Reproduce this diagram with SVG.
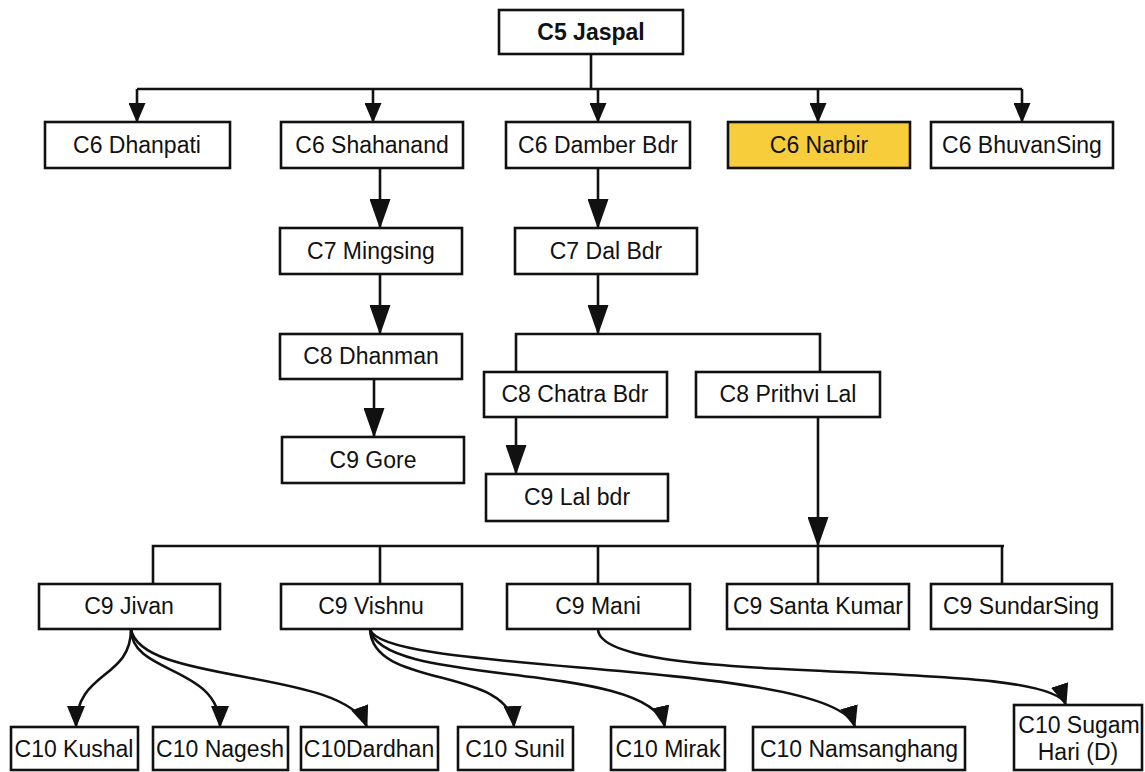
<svg xmlns="http://www.w3.org/2000/svg" width="1145" height="772" viewBox="0 0 1145 772">
<style>
.box{fill:#fff;stroke:#111;stroke-width:2.6}
.hl{fill:#F8CD3C}
text{font-family:"Liberation Sans",Arial,sans-serif;font-size:23px;fill:#111;text-anchor:middle}
.b{font-weight:bold}
.c{fill:none;stroke:#111;stroke-width:2.6}
</style>
<defs>
<marker id="aS" viewBox="0 0 20 17" markerWidth="20" markerHeight="17" refX="19" refY="8.5" orient="auto" markerUnits="userSpaceOnUse"><path d="M0,0 L20,8.5 L0,17 z" fill="#111"/></marker>
<marker id="aB" viewBox="0 0 30 21" markerWidth="30" markerHeight="21" refX="29" refY="10.5" orient="auto" markerUnits="userSpaceOnUse"><path d="M0,0 L30,10.5 L0,21 z" fill="#111"/></marker>
<marker id="aC" viewBox="0 0 22 18" markerWidth="22" markerHeight="18" refX="21" refY="9" orient="auto" markerUnits="userSpaceOnUse"><path d="M0,0 L22,9 L0,18 z" fill="#111"/></marker>
</defs>
<rect width="1145" height="772" fill="#fff"/>
<g id="connectors">
<path class="c" d="M591,54 V89 M137,89 H1022"/>
<path class="c" d="M137,89 V122" marker-end="url(#aS)"/>
<path class="c" d="M373,89 V122" marker-end="url(#aS)"/>
<path class="c" d="M598,89 V122" marker-end="url(#aS)"/>
<path class="c" d="M818,89 V122" marker-end="url(#aS)"/>
<path class="c" d="M1022,89 V122" marker-end="url(#aS)"/>
<path class="c" d="M380,168 V228" marker-end="url(#aB)"/>
<path class="c" d="M598,168 V228" marker-end="url(#aB)"/>
<path class="c" d="M380,274 V334" marker-end="url(#aB)"/>
<path class="c" d="M374,379 V437" marker-end="url(#aB)"/>
<path class="c" d="M598,274 V334" marker-end="url(#aB)"/>
<path class="c" d="M516,372 V334 H820 V372"/>
<path class="c" d="M516,417 V474" marker-end="url(#aB)"/>
<path class="c" d="M818,417 V546" marker-end="url(#aB)"/>
<path class="c" d="M153,584 V546 H1004 M380,546 V584 M598,546 V584 M818,546 V584 M1002,546 V584"/>
<path class="c" d="M131,629 C131,680 76,670 76,727" marker-end="url(#aC)"/>
<path class="c" d="M131,629 C131,675 220,665 220,727" marker-end="url(#aC)"/>
<path class="c" d="M131,629 C140,685 345,668 367,727" marker-end="url(#aC)"/>
<path class="c" d="M370,629 C372,690 510,665 514,727" marker-end="url(#aC)"/>
<path class="c" d="M370,629 C380,688 650,660 665,727" marker-end="url(#aC)"/>
<path class="c" d="M370,629 C380,675 835,660 855,727" marker-end="url(#aC)"/>
<path class="c" d="M598,629 C598,690 1050,655 1066,705" marker-end="url(#aC)"/>
</g>
<g id="n-c5"><rect class="box" x="499" y="10" width="184" height="44"/><text class="b" x="591" y="40">C5 Jaspal</text></g>
<g id="n-dhanpati"><rect class="box" x="45" y="122" width="185" height="46"/><text x="137" y="153">C6 Dhanpati</text></g>
<g id="n-shahanand"><rect class="box" x="281" y="122" width="182" height="46"/><text x="372" y="153">C6 Shahanand</text></g>
<g id="n-damber"><rect class="box" x="506" y="122" width="184" height="46"/><text x="598" y="153">C6 Damber Bdr</text></g>
<g id="n-narbir"><rect class="box hl" x="728" y="122" width="182" height="46"/><text x="819" y="153">C6 Narbir</text></g>
<g id="n-bhuvansing"><rect class="box" x="931" y="122" width="182" height="46"/><text x="1022" y="153">C6 BhuvanSing</text></g>
<g id="n-mingsing"><rect class="box" x="280" y="228" width="182" height="46"/><text x="371" y="259">C7 Mingsing</text></g>
<g id="n-dalbdr"><rect class="box" x="515" y="228" width="182" height="46"/><text x="606" y="259">C7 Dal Bdr</text></g>
<g id="n-dhanman"><rect class="box" x="280" y="334" width="182" height="45"/><text x="371" y="364">C8 Dhanman</text></g>
<g id="n-gore"><rect class="box" x="282" y="437" width="182" height="46"/><text x="373" y="468">C9 Gore</text></g>
<g id="n-chatra"><rect class="box" x="484" y="372" width="183" height="45"/><text x="575" y="402">C8 Chatra Bdr</text></g>
<g id="n-prithvi"><rect class="box" x="696" y="372" width="184" height="45"/><text x="788" y="402">C8 Prithvi Lal</text></g>
<g id="n-lalbdr"><rect class="box" x="486" y="474" width="182" height="47"/><text x="577" y="505">C9 Lal bdr</text></g>
<g id="n-jivan"><rect class="box" x="39" y="584" width="181" height="45"/><text x="129" y="614">C9 Jivan</text></g>
<g id="n-vishnu"><rect class="box" x="281" y="584" width="181" height="45"/><text x="371" y="614">C9 Vishnu</text></g>
<g id="n-mani"><rect class="box" x="507" y="584" width="183" height="45"/><text x="598" y="614">C9 Mani</text></g>
<g id="n-santa"><rect class="box" x="727" y="584" width="182" height="45"/><text x="818" y="614">C9 Santa Kumar</text></g>
<g id="n-sundar"><rect class="box" x="931" y="584" width="181" height="45"/><text x="1021" y="614">C9 SundarSing</text></g>
<g id="n-kushal"><rect class="box" x="11" y="727" width="127" height="43"/><text x="74" y="757">C10 Kushal</text></g>
<g id="n-nagesh"><rect class="box" x="153" y="727" width="135" height="43"/><text x="220" y="757">C10 Nagesh</text></g>
<g id="n-dardhan"><rect class="box" x="301" y="727" width="137" height="43"/><text x="369" y="757">C10Dardhan</text></g>
<g id="n-sunil"><rect class="box" x="458" y="727" width="115" height="43"/><text x="515" y="757">C10 Sunil</text></g>
<g id="n-mirak"><rect class="box" x="611" y="727" width="114" height="43"/><text x="668" y="757">C10 Mirak</text></g>
<g id="n-namsanghang"><rect class="box" x="753" y="727" width="212" height="43"/><text x="859" y="757">C10 Namsanghang</text></g>
<g id="n-sugam"><rect class="box" x="1014" y="705" width="128" height="65"/><text x="1079" y="733">C10 Sugam</text><text x="1078" y="760">Hari (D)</text></g>
</svg>
